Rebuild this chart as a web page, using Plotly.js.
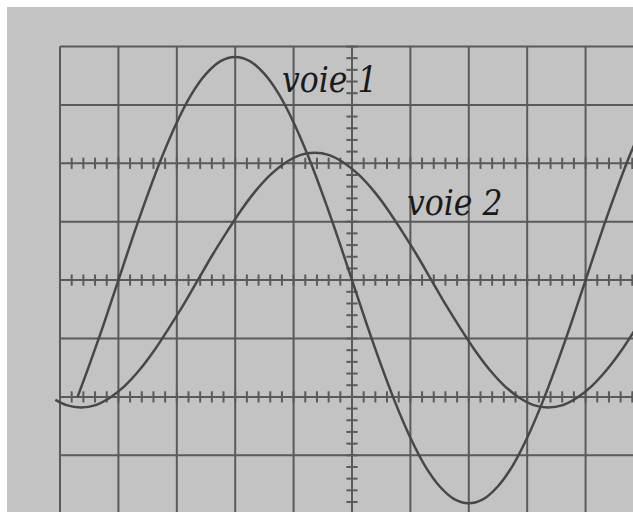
<!DOCTYPE html>
<html>
<head>
<meta charset="utf-8">
<script src="https://cdn.plot.ly/plotly-3.0.1.min.js"></script>
<style>
  html, body { margin: 0; padding: 0; background: #ffffff; }
  #chart { position: absolute; left: 7px; top: 7px; width: 626px; height: 505px; }
</style>
</head>
<body>
<div id="chart"></div>
<script>
// Oscilloscope screen, units = divisions (centre of screen = 0,0)
const voie1X = [-4.7, -4.5, -4.25, -4.0, -3.75, -3.5, -3.25, -3.0, -2.75, -2.5, -2.25, -2.0, -1.75, -1.5, -1.25, -1.0, -0.75, -0.5, -0.25, 0.0,
                0.25, 0.5, 0.75, 1.0, 1.25, 1.5, 1.75, 2.0, 2.25, 2.5, 2.75, 3.0, 3.25, 3.5, 3.75, 4.0, 4.25, 4.5, 4.75, 5.0];
const voie1Y = [-2.00, -1.46, -0.75, 0.00, 0.75, 1.46, 2.12, 2.70, 3.18, 3.53, 3.75, 3.82, 3.75, 3.53, 3.18, 2.70, 2.12, 1.46, 0.75, 0.00,
                -0.75, -1.46, -2.12, -2.70, -3.18, -3.53, -3.75, -3.82, -3.75, -3.53, -3.18, -2.70, -2.12, -1.46, -0.75, 0.00, 0.75, 1.46, 2.12, 2.70];

const voie2X = [-5.08, -4.89, -4.64, -4.39, -4.14, -3.89, -3.64, -3.39, -3.14, -2.89, -2.64, -2.39, -2.14, -1.89, -1.64, -1.39, -1.14, -0.89, -0.64,
                -0.39, -0.14, 0.11, 0.36, 0.61, 0.86, 1.11, 1.36, 1.61, 1.86, 2.11, 2.36, 2.61, 2.86, 3.11, 3.36, 3.61, 3.86, 4.11, 4.36, 4.61, 4.86, 5.11];
const voie2Y = [-2.05, -2.14, -2.18, -2.14, -2.01, -1.81, -1.54, -1.21, -0.83, -0.43, 0.00, 0.43, 0.83, 1.21, 1.54, 1.81, 2.01, 2.14, 2.18,
                2.14, 2.01, 1.81, 1.54, 1.21, 0.83, 0.43, 0.00, -0.43, -0.83, -1.21, -1.54, -1.81, -2.01, -2.14, -2.18, -2.14, -2.01, -1.81, -1.54, -1.21, -0.83, -0.43];

const labels = ["voie 1", "voie 2"];
const labelX = [-0.39, 1.75];
const labelY = [3.43, 1.32];

// screen graticule
const gridX = [-5, -4, -3, -2, -1, 0, 1, 2, 3, 4, 5];
const gridY = [-4, -3, -2, -1, 0, 1, 2, 3, 4];
const tickedRows = [2, 0, -2];
const tickedCols = [0];

const xRange = [-5.103, 4.812];
const yRange = [-3.971, 4.060];
const gridColor = '#5a5a5a';
const traceColor = '#474747';

const shapes = [];
gridX.forEach(g => shapes.push({type: 'line', layer: 'below', xref: 'x', yref: 'y',
  x0: g, x1: g, y0: yRange[0] - 1, y1: 4, line: {color: gridColor, width: 2}}));
gridY.forEach(g => shapes.push({type: 'line', layer: 'below', xref: 'x', yref: 'y',
  x0: -5, x1: xRange[1] + 1, y0: g, y1: g, line: {color: gridColor, width: 2}}));

// minor graduation marks (every 0.2 division)
const hx = [], hy = [], vx = [], vy = [];
tickedRows.forEach(r => {
  for (let i = -25; i <= 25; i++) { hx.push(i / 5); hy.push(r); }
});
tickedCols.forEach(c => {
  for (let i = -20; i <= 20; i++) { vx.push(c); vy.push(i / 5); }
});

const traces = [
  {x: hx, y: hy, mode: 'markers', type: 'scatter', hoverinfo: 'skip',
   marker: {symbol: 'line-ns-open', size: 8, color: gridColor, line: {color: gridColor, width: 2}}},
  {x: vx, y: vy, mode: 'markers', type: 'scatter', hoverinfo: 'skip',
   marker: {symbol: 'line-ew-open', size: 8, color: gridColor, line: {color: gridColor, width: 2}}},
  {x: voie1X, y: voie1Y, mode: 'lines', type: 'scatter', name: labels[0],
   line: {color: traceColor, width: 2.5, shape: 'spline', smoothing: 1.0}},
  {x: voie2X, y: voie2Y, mode: 'lines', type: 'scatter', name: labels[1],
   line: {color: traceColor, width: 2.5, shape: 'spline', smoothing: 1.0}}
];

const annotations = labels.map((t, i) => ({
  x: labelX[i], y: labelY[i], xref: 'x', yref: 'y', text: t, showarrow: false,
  xanchor: 'center', yanchor: 'middle',
  font: {family: 'DejaVu Serif Condensed', size: 35, color: '#1a1a1a', style: 'italic'}
}));

const layout = {
  width: 626, height: 505,
  margin: {l: 47, r: 0, t: 36, b: 0, pad: 0},
  paper_bgcolor: '#c3c3c3',
  plot_bgcolor: '#c3c3c3',
  showlegend: false,
  xaxis: {range: xRange, showgrid: false, zeroline: false, showticklabels: false, ticks: '', showline: false, fixedrange: true},
  yaxis: {range: yRange, showgrid: false, zeroline: false, showticklabels: false, ticks: '', showline: false, fixedrange: true},
  shapes: shapes,
  annotations: annotations
};

Plotly.newPlot('chart', traces, layout, {staticPlot: true, displayModeBar: false});
</script>
</body>
</html>
